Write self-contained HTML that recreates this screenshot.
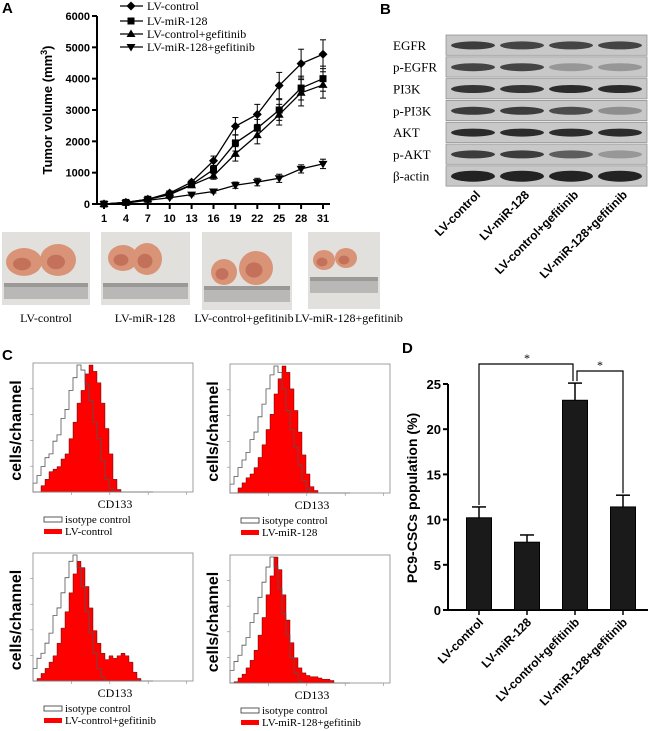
<!DOCTYPE html>
<html><head><meta charset="utf-8"><style>
body{margin:0;background:#fff}
svg{display:block}
text{font-family:"Liberation Sans",Arial,sans-serif}
.serif{font-family:"Liberation Serif","Times New Roman",serif}
</style></head><body>
<svg id="fig" width="650" height="731" viewBox="0 0 650 731" xmlns="http://www.w3.org/2000/svg">
<g id="panelA"></g>
<g id="photos"></g>
<g id="panelB"></g>
<g id="panelC"></g>
<g id="panelD"></g>
</svg>
<script>
// ---------- Panel A data ----------
const days = [1,4,7,10,13,16,19,22,25,28,31];
const yTicksA = [0,1000,2000,3000,4000,5000,6000];
const seriesNamesA = ["LV-control","LV-miR-128","LV-control+gefitinib","LV-miR-128+gefitinib"];
const volControl = [0,50,150,350,700,1380,2480,2860,3780,4480,4780];
const volMiR = [0,50,150,320,620,1100,1950,2420,3000,3700,4000];
const volCtrlGef = [0,50,150,300,600,900,1600,2200,2850,3550,3800];
const volMiRGef = [0,30,120,200,300,400,600,700,820,1120,1280];
const errControl = [0,20,30,50,60,150,280,320,420,460,460];
const errMiR = [0,20,30,40,60,130,260,280,330,380,400];
const errCtrlGef = [0,20,30,40,50,110,230,280,330,420,420];
const errMiRGef = [0,10,20,30,40,50,100,120,130,130,150];
// ---------- Panel B data ----------
const blotLabels = ["EGFR","p-EGFR","PI3K","p-PI3K","AKT","p-AKT","\u03B2-actin"];
const laneLabels = ["LV-control","LV-miR-128","LV-control+gefitinib","LV-miR-128+gefitinib"];
const bandIntensity = [[0.85,0.8,0.8,0.8],[0.8,0.8,0.3,0.3],[0.9,0.9,0.95,0.95],[0.85,0.85,0.75,0.35],[0.95,0.95,0.95,0.95],[0.85,0.85,0.65,0.3],[1,1,1,1]];
// ---------- Panel C data ----------
const histTitles = ["LV-control","LV-miR-128","LV-control+gefitinib","LV-miR-128+gefitinib"];
const iso1 = [0.07,0.13,0.2,0.27,0.3,0.4,0.45,0.58,0.65,0.8,0.9,1,0.96,0.85,0.72,0.55,0.42,0.25,0.1,0.03,0,0,0,0,0,0,0,0,0,0];
const red1 = [0,0,0.05,0.1,0.16,0.18,0.2,0.26,0.3,0.42,0.55,0.7,0.8,0.93,1,0.95,0.86,0.7,0.5,0.3,0.1,0.02,0,0,0,0,0,0,0,0];
const iso2 = [0.07,0.13,0.2,0.26,0.32,0.42,0.48,0.6,0.7,0.82,0.93,1,0.95,0.82,0.65,0.5,0.36,0.22,0.1,0.03,0,0,0,0,0,0,0,0,0,0];
const red2 = [0,0,0.04,0.08,0.12,0.15,0.2,0.28,0.38,0.5,0.62,0.78,0.9,1,0.95,0.82,0.65,0.48,0.3,0.15,0.05,0.02,0,0,0,0,0,0,0,0];
const iso3 = [0.1,0.18,0.22,0.3,0.38,0.52,0.58,0.7,0.82,0.95,1,0.9,0.75,0.55,0.38,0.22,0.1,0.03,0,0,0,0,0,0,0,0,0,0,0,0];
const red3 = [0,0.02,0.06,0.1,0.15,0.2,0.3,0.42,0.55,0.7,0.85,0.95,0.9,0.75,0.58,0.4,0.3,0.22,0.17,0.2,0.18,0.2,0.22,0.2,0.15,0.07,0.02,0,0,0];
const iso4 = [0.1,0.17,0.22,0.3,0.36,0.48,0.55,0.68,0.8,0.92,1,0.92,0.75,0.55,0.38,0.2,0.08,0.02,0,0,0,0,0,0,0,0,0,0,0,0];
const red4 = [0,0.01,0.04,0.07,0.12,0.18,0.26,0.38,0.52,0.7,0.85,1,0.9,0.7,0.5,0.32,0.2,0.12,0.08,0.06,0.05,0.05,0.04,0.03,0.03,0.02,0,0,0,0];
// ---------- Panel D data ----------
const groupsD = ["LV-control","LV-miR-128","LV-control+gefitinib","LV-miR-128+gefitinib"];
const cscValues = [10.2,7.5,23.2,11.4];
const cscErrors = [1.2,0.8,1.9,1.3];
const yTicksD = [0,5,10,15,20,25];

const NS="http://www.w3.org/2000/svg";
function mk(parent,tag,attrs,text){const e=document.createElementNS(NS,tag);for(const k in attrs)e.setAttribute(k,attrs[k]);if(text!==undefined)e.textContent=text;parent.appendChild(e);return e;}

// ===== Panel A =====
const A=document.getElementById('panelA');
const ax0=97, ax1=330, ay0=204, ay1=16;
const xA=d=>104+(d-1)/30*219;
const yA=v=>ay0-(v/6000)*(ay0-ay1);
let t=mk(A,'text',{x:2,y:13,'font-size':15,'font-weight':'bold'},'A');

let l=mk(A,'line',{x1:ax0,y1:ay1,x2:ax0,y2:ay0,stroke:'#000','stroke-width':2});

l=mk(A,'line',{x1:ax0,y1:ay0,x2:ax1,y2:ay0,stroke:'#000','stroke-width':2});

yTicksA.forEach(v=>{mk(A,'line',{x1:ax0-5,y1:yA(v),x2:ax0,y2:yA(v),stroke:'#000','stroke-width':2});
 const tt=mk(A,'text',{x:ax0-7,y:yA(v)+4,'font-size':11,'font-weight':'bold','text-anchor':'end'},v);
 });
days.forEach(d=>{mk(A,'line',{x1:xA(d),y1:ay0,x2:xA(d),y2:ay0+5,stroke:'#000','stroke-width':2});
 const tt=mk(A,'text',{x:xA(d),y:ay0+18,'font-size':11,'font-weight':'bold','text-anchor':'middle'},d);
 });
t=mk(A,'text',{x:0,y:0,'font-size':13,'font-weight':'bold','text-anchor':'middle',transform:'translate(52,110) rotate(-90)'});

t.appendChild(document.createTextNode('Tumor volume (mm'));
mk(t,'tspan',{dy:-5,'font-size':9},'3');mk(t,'tspan',{dy:5},')');
function marker(g,type,x,y){
 if(type===0) return mk(g,'polygon',{points:`${x},${y-4.5} ${x+4.5},${y} ${x},${y+4.5} ${x-4.5},${y}`,fill:'#000'});
 if(type===1) return mk(g,'rect',{x:x-3.5,y:y-3.5,width:7,height:7,fill:'#000'});
 if(type===2) return mk(g,'polygon',{points:`${x},${y-4.5} ${x+4.5},${y+3} ${x-4.5},${y+3}`,fill:'#000'});
 return mk(g,'polygon',{points:`${x},${y+4.5} ${x+4.5},${y-3} ${x-4.5},${y-3}`,fill:'#000'});
}
const allVals=[volControl,volMiR,volCtrlGef,volMiRGef], allErr=[errControl,errMiR,errCtrlGef,errMiRGef];
allVals.forEach((vals,si)=>{
 const g=mk(A,'g',{});
 mk(g,'polyline',{points:vals.map((v,i)=>xA(days[i])+','+yA(v)).join(' '),fill:'none',stroke:'#000','stroke-width':1.3});
 vals.forEach((v,i)=>{const e=allErr[si][i];if(e>0){const x=xA(days[i]);
   mk(g,'line',{x1:x,y1:yA(v-e),x2:x,y2:yA(v+e),stroke:'#000','stroke-width':1});
   mk(g,'line',{x1:x-3,y1:yA(v+e),x2:x+3,y2:yA(v+e),stroke:'#000','stroke-width':1});
   mk(g,'line',{x1:x-3,y1:yA(v-e),x2:x+3,y2:yA(v-e),stroke:'#000','stroke-width':1});}
  const m=marker(g,si,xA(days[i]),yA(v));});
});
const legY=[6,21,34,47];
seriesNamesA.forEach((n,i)=>{const g=mk(A,'g',{});
 mk(g,'line',{x1:120,y1:legY[i],x2:143,y2:legY[i],stroke:'#000','stroke-width':1.3});marker(g,i,131,legY[i]);
 mk(g,'text',{x:147,y:legY[i]+4,'font-size':12,class:'serif'},n);});

// ===== Photos =====
const P=document.getElementById('photos');
const photoBoxes=[[2,232,88,73,[[22,30,18,14],[56,28,18,16]]],[101,232,89,73,[[22,26,15,13],[46,27,15,16]]],[202,232,90,78,[[22,40,13,13],[54,36,17,17]]],[308,232,72,77,[[16,28,11,10],[38,26,11,10]]]];
const photoCaps=[[46,"LV-control"],[145,"LV-miR-128"],[244,"LV-control+gefitinib"],[349,"LV-miR-128+gefitinib"]];
photoBoxes.forEach((b,i)=>{const g=mk(P,'g',{});
 mk(g,'rect',{x:b[0],y:b[1],width:b[2],height:b[3],fill:'#e2e0dd'});
 const ry=b[1]+b[3]-(i===2?24:i===3?32:22);
 mk(g,'rect',{x:b[0]+2,y:ry,width:b[2]-4,height:16,fill:'#b9b8b6'});
 mk(g,'rect',{x:b[0]+2,y:ry,width:b[2]-4,height:4,fill:'#9a9998'});
 b[4].forEach(c=>{mk(g,'ellipse',{cx:b[0]+c[0],cy:b[1]+c[1],rx:c[2],ry:c[3],fill:'#d99478'});
  mk(g,'ellipse',{cx:b[0]+c[0]-2,cy:b[1]+c[1]+2,rx:c[2]*0.5,ry:c[3]*0.45,fill:'#b55a4a',opacity:0.6});});
 const tt=mk(P,'text',{x:photoCaps[i][0],y:322,'font-size':12,class:'serif','text-anchor':'middle'},photoCaps[i][1]);
 });

// ===== Panel B =====
const B=document.getElementById('panelB');
t=mk(B,'text',{x:380,y:14,'font-size':15,'font-weight':'bold'},'B');
const bx0=446,bx1=647,by0=35,rowH=21.8;
blotLabels.forEach((lab,r)=>{const y=by0+r*rowH;const g=mk(B,'g',{});
 mk(g,'rect',{x:bx0,y:y,width:bx1-bx0,height:rowH-1.5,fill:'#c8c8c8',stroke:'#888','stroke-width':0.7});
 bandIntensity[r].forEach((v,c)=>{const cx=bx0+27+c*49;const shade=Math.round(200-v*165);
  mk(g,'ellipse',{cx:cx,cy:y+rowH/2-0.5,rx:22,ry:r===6?5.5:4,fill:`rgb(${shade},${shade},${shade})`});});
 mk(g,'text',{x:393,y:y+rowH/2+4,'font-size':13,class:'serif'},lab);});
laneLabels.forEach((lab,c)=>{const x=bx0+35+c*49;const tt=mk(B,'text',{x:0,y:0,'font-size':12,'font-weight':'bold','text-anchor':'end',transform:`translate(${x},${by0+7*rowH+8}) rotate(-45)`},lab);
 });

// ===== Panel C =====
const C=document.getElementById('panelC');
t=mk(C,'text',{x:2,y:360,'font-size':15,'font-weight':'bold'},'C');
const boxesC=[[33,363,160,129],[230,364,160,129],[33,553,160,128],[230,555,160,128]];
const isoArr=[iso1,iso2,iso3,iso4], redArr=[red1,red2,red3,red4];
boxesC.forEach((b,k)=>{const g=mk(C,'g',{});
 const [x,y,w,h]=b;const bw=w*0.025;
 const path=arr=>{let d=`M${x},${y+h}`;arr.forEach((v,i)=>{const yy=y+h-v*(h-2);d+=` L${x+i*bw},${yy} L${x+(i+1)*bw},${yy}`;});return d+` L${x+arr.length*bw},${y+h} Z`;};
 const rp=mk(g,'path',{d:path(redArr[k]),fill:'#ff0000',stroke:'#300','stroke-width':0.4});
 const ip=mk(g,'path',{d:path(isoArr[k]),fill:'none',stroke:'#555','stroke-width':0.8});
 mk(g,'rect',{x:x,y:y,width:w,height:h,fill:'none',stroke:'#888','stroke-width':0.8});
 [0.25,0.5,0.75,1].forEach(f=>{mk(g,'line',{x1:x+f*w*0.96,y1:y+h,x2:x+f*w*0.96,y2:y+h+3,stroke:'#888','stroke-width':0.6});});
 [0.2,0.4,0.6,0.8].forEach(f=>{mk(g,'line',{x1:x,y1:y+h*f,x2:x-3,y2:y+h*f,stroke:'#888','stroke-width':0.6});});
 let tt=mk(C,'text',{x:x+w/2+2,y:y+h+16,'font-size':12,class:'serif','text-anchor':'middle'},'CD133');
 tt=mk(C,'text',{x:0,y:0,'font-size':16,'font-weight':'bold','text-anchor':'middle',transform:`translate(${x-12},${y+h/2+3}) rotate(-90)`},'cells/channel');
 const lg=mk(C,'g',{});
 const ly=y+h+29;
 mk(lg,'rect',{x:x+11,y:ly-4,width:18,height:5,fill:'#fff',stroke:'#333','stroke-width':0.8});
 mk(lg,'text',{x:x+32,y:ly+2,'font-size':11,class:'serif'},'isotype control');
 mk(lg,'rect',{x:x+11,y:ly+8,width:18,height:5,fill:'#ff0000'});
 mk(lg,'text',{x:x+32,y:ly+14,'font-size':11,class:'serif'},histTitles[k]);
});

// ===== Panel D =====
const D=document.getElementById('panelD');
t=mk(D,'text',{x:402,y:353,'font-size':15,'font-weight':'bold'},'D');
const dx0=448,dx1=648,dy0=610,dy1=384;
const yD=v=>dy0-v/25*(dy0-dy1);
const xD=i=>479+i*48;
mk(D,'line',{x1:dx0,y1:dy1,x2:dx0,y2:dy0,stroke:'#000','stroke-width':2});
mk(D,'line',{x1:dx0,y1:dy0,x2:dx1,y2:dy0,stroke:'#000','stroke-width':2});
yTicksD.forEach(v=>{mk(D,'line',{x1:dx0-5,y1:yD(v),x2:dx0,y2:yD(v),stroke:'#000','stroke-width':2});
 const tt=mk(D,'text',{x:dx0-7,y:yD(v)+5,'font-size':13,'font-weight':'bold','text-anchor':'end'},v);});
t=mk(D,'text',{x:0,y:0,'font-size':14,'font-weight':'bold','text-anchor':'middle',transform:'translate(417,498) rotate(-90)'},'PC9-CSCs population (%)');

cscValues.forEach((v,i)=>{const x=xD(i),e=cscErrors[i];
 const r=mk(D,'rect',{x:x-12.5,y:yD(v),width:25,height:dy0-yD(v),fill:'#1a1a1a',stroke:'#000','stroke-width':1});
 
 mk(D,'line',{x1:x,y1:yD(v),x2:x,y2:yD(v+e),stroke:'#000','stroke-width':1.5});
 mk(D,'line',{x1:x-7,y1:yD(v+e),x2:x+7,y2:yD(v+e),stroke:'#000','stroke-width':1.5});
 mk(D,'line',{x1:x,y1:dy0,x2:x,y2:dy0+5,stroke:'#000','stroke-width':1.5});
 const tt=mk(D,'text',{x:0,y:0,'font-size':12,'font-weight':'bold','text-anchor':'end',transform:`translate(${x+5},${dy0+13}) rotate(-45)`},groupsD[i]);
 });
const br1=mk(D,'polyline',{points:`${xD(0)},${yD(cscValues[0]+cscErrors[0])-2} ${xD(0)},364 ${xD(2)-2},364 ${xD(2)-2},${yD(cscValues[2]+cscErrors[2])-2}`,fill:'none',stroke:'#000','stroke-width':1.2});

const br2=mk(D,'polyline',{points:`${xD(2)+2},${yD(cscValues[2]+cscErrors[2])-2} ${xD(2)+2},371 ${xD(3)},371 ${xD(3)},${yD(cscValues[3]+cscErrors[3])-2}`,fill:'none',stroke:'#000','stroke-width':1.2});

t=mk(D,'text',{x:(xD(0)+xD(2))/2,y:362,'font-size':12,'text-anchor':'middle',class:'serif'},'*');
t=mk(D,'text',{x:(xD(2)+xD(3))/2+1,y:369,'font-size':12,'text-anchor':'middle',class:'serif'},'*');
</script>
</body></html>
